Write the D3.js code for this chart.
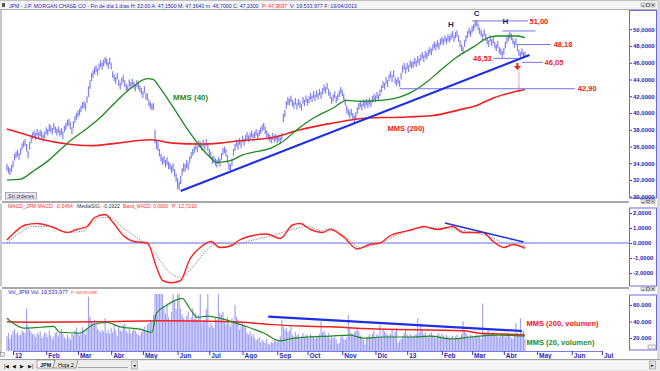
<!DOCTYPE html>
<html><head><meta charset="utf-8">
<script src="https://cdn.jsdelivr.net/npm/d3@7"></script>
<style>
body{margin:0;background:#fff}
svg{display:block;font-family:"Liberation Sans",Arial,sans-serif}
</style></head>
<body><svg id="c" width="660" height="371"></svg>
<script>
// ---------------- DATA ----------------
const firstDay = "2011-12-27";   // first trading day shown
const lastAxisDay = "2013-07-31"; // axis extends into the future
// daily low / high (one value per trading day, Dec 27 2011 .. Apr 19 2013)
const low = [
33.1,32.8,32.6,33.0,
33.5,34.3,34.6,34.8,34.4, 35.0,35.6,35.9,36.1,35.4, 34.6,35.6,36.4,36.9,37.1, 36.8,37.3,36.9,37.2,37.0,
36.6,37.0,37.5,37.3,37.8, 37.7,37.4,38.0,37.6,37.3, 37.6,37.2,37.4,36.9,37.7, 38.0,38.4,38.5,38.1,37.5,
38.2,38.8,39.2,39.5,39.7, 40.1,40.5,40.6,40.3,41.2, 41.9,42.9,43.8,44.2,44.6, 44.9,44.5,45.1,45.5,45.2,
45.6,45.9,45.7,45.3,45.8, 45.2,44.2,43.8,43.5,44.0, 43.2,42.8,43.4,43.7,43.1, 42.7,42.5,43.2,42.9,43.3,
42.9,42.6,43.1,42.8,42.5, 42.2,41.8,42.4,41.6,41.5, 40.8,40.5,40.3,40.4,36.4, 35.7,35.5,34.8,34.2,33.8,
34.0,33.5,33.8,33.3,33.2, 32.8,33.0,32.4,31.8,30.9, 30.8,31.5,32.5,33.0,33.0, 33.4,33.2,34.0,34.5,34.9,
35.2,35.6,35.3,35.9,35.8, 35.5,36.0,35.6,36.1,35.5, 34.8,34.5,33.9,34.1,33.7, 33.5,33.9,33.6,34.4,35.0,
35.2,34.8,34.0,33.2,33.0, 33.7,34.9,35.5,36.0,35.6, 36.2,35.8,36.5,36.1,36.6, 36.9,36.5,36.8,37.1,36.7,
37.0,37.3,36.8,37.2,37.5, 37.8,38.0,37.5,37.1,36.8, 36.6,36.4,36.8,36.5,36.7, 36.4,36.6,36.3,36.8,38.9,
39.5,40.5,41.0,40.9,41.3, 40.8,40.5,41.0,40.4,40.9, 40.6,40.3,41.1,40.8,41.3, 40.9,41.2,41.6,41.3,41.8,
41.4,41.9,41.6,42.1,41.7, 42.2,42.6,42.3,42.8,42.1, 41.7,41.1,41.4,41.8,41.2, 41.5,41.9,42.3,42.0,41.5,
40.9,40.0,39.7,39.4,39.7, 39.2,38.9,39.3,39.9,40.4, 40.7,40.3,40.8,40.5,40.9, 40.6,41.0,40.7,41.2,41.5,
41.3,41.7,41.4,42.0,42.5, 43.0,42.8,43.5,43.1,43.8, 44.2,43.7,44.3,43.5,43.2, 43.5,43.1,44.0,44.8,45.2,
44.7,45.2,44.9,45.5,45.3, 45.4,45.8,45.5,46.0,45.7, 46.2,46.5,46.1,46.6,46.4, 46.8,47.1,46.9,47.4,47.7,
47.5,47.9,47.6,48.1,48.3, 48.1,48.5,48.2,48.6,48.4, 48.7,49.0,48.5,48.9,49.1, 48.5,47.9,47.4,47.1,47.9,
48.5,49.0,49.4,49.1,49.6, 49.8,50.2,50.4,49.9,49.4, 49.1,48.7,49.2,48.6,48.2, 47.9,48.5,48.0,48.3,47.7,
47.4,47.8,47.1,46.9,46.6, 47.0,47.7,48.3,48.6,48.9, 48.7,48.2,47.8,48.1,47.4, 46.8,46.5,46.9,46.6,46.70];
const high = [
33.9,33.6,33.4,33.8,
34.3,35.1,35.4,35.6,35.2, 35.8,36.4,36.7,36.9,36.3, 35.5,36.5,37.2,37.7,37.9, 37.6,38.1,37.7,38.0,37.8,
37.4,37.8,38.3,38.1,38.7, 38.5,38.2,38.8,38.4,38.1, 38.4,38.0,38.2,37.8,38.5, 38.8,39.2,39.3,38.9,38.3,
39.0,39.6,40.0,40.3,40.5, 40.9,41.3,41.4,41.2,42.0, 43.2,43.9,44.8,45.1,45.5, 45.7,45.3,45.9,46.3,46.0,
46.4,46.7,46.5,46.1,46.6, 46.0,45.0,44.6,44.3,44.8, 44.0,43.6,44.2,44.5,43.9, 43.5,43.3,44.0,43.7,44.1,
43.7,43.4,43.9,43.6,43.3, 43.0,42.6,43.2,42.4,42.3, 41.6,41.3,41.1,41.2,38.0, 36.8,36.5,35.7,35.1,34.7,
34.9,34.4,34.7,34.2,34.0, 33.7,34.0,33.3,32.8,32.2, 31.8,32.5,33.4,34.0,33.9, 34.4,34.1,34.8,35.3,35.7,
36.0,36.4,36.1,36.7,36.6, 36.3,36.8,36.4,36.9,36.4, 35.7,35.4,34.8,34.9,34.6, 34.4,34.7,34.5,35.2,35.8,
36.0,35.7,35.0,34.1,33.9, 34.6,35.7,36.3,36.8,36.5, 37.0,36.6,37.3,36.9,37.4, 37.7,37.3,37.6,37.9,37.5,
37.8,38.1,37.6,38.0,38.3, 38.6,38.8,38.4,37.9,37.6, 37.4,37.2,37.6,37.3,37.5, 37.2,37.4,37.1,37.6,39.9,
40.4,41.4,41.9,41.7,42.1, 41.6,41.3,41.8,41.2,41.7, 41.4,41.1,41.9,41.6,42.1, 41.7,42.0,42.4,42.1,42.6,
42.2,42.7,42.4,42.9,42.5, 43.0,43.4,43.1,43.6,42.9, 42.5,41.9,42.2,42.6,42.0, 42.3,42.7,43.1,42.8,42.3,
41.7,40.9,40.5,40.2,40.5, 40.0,39.7,40.1,40.7,41.2, 41.5,41.1,41.6,41.3,41.7, 41.4,41.8,41.5,42.0,42.3,
42.1,42.5,42.2,42.8,43.3, 43.8,43.6,44.3,43.9,44.6, 45.0,44.5,45.1,44.3,44.0, 44.3,43.9,44.8,45.7,46.0,
45.5,46.0,45.7,46.3,46.1, 46.2,46.6,46.3,46.8,46.5, 47.0,47.3,46.9,47.4,47.2, 47.6,47.9,47.7,48.2,48.5,
48.3,48.7,48.4,48.9,49.1, 48.9,49.3,49.0,49.4,49.2, 49.5,49.8,49.3,49.7,49.9, 49.3,48.7,48.2,47.9,48.7,
49.3,49.8,50.2,49.9,50.4, 50.6,51.0,51.1,50.7,50.2, 49.9,49.5,50.0,49.4,49.0, 48.7,49.3,48.8,49.1,48.5,
48.2,48.6,47.9,47.7,47.4, 47.8,48.5,49.1,49.4,49.7, 49.5,49.0,48.6,48.9,48.2, 47.6,47.3,47.7,47.3,47.36];
// daily volume, millions of shares
const volume = [
22,26,19,24,
28,31,25,27,23, 24,29,27,26,56, 35,30,27,25,24, 21,26,24,28,20,
22,27,25,21,29, 23,19,22,26,28, 22,27,31,25,21, 19,24,21,18,25,
24,29,33,26,23, 25,33,28,24,30, 70,46,40,38,42, 36,31,29,27,30,
28,44,26,30,25, 32,27,35,29,23, 34,30,28,36,38, 29,26,31,25,28,
32,29,26,24,23, 27,30,34,29,36, 38,42,40,48,120, 150,95,88,80,76,
58,50,62,45,42, 52,80,64,55,78, 74,56,48,44,40, 47,52,41,45,56,
43,50,42,48,80, 38,42,40,55,85, 33,38,35,32,44, 42,80,50,48,52,
40,36,45,38,34, 44,40,60,46,42, 30,34,38,36,33, 26,24,28,22,25,
20,17,19,21,15, 18,16,14,19,13, 12,15,14,17,16, 15,18,22,42,34,
30,32,27,29,34, 24,21,27,23,25, 19,22,26,21,24, 23,20,25,22,21,
19,23,21,25,40, 27,29,24,21,26, 19,23,20,22,18, 13,14,21,24,19,
18,21,48,31,26, 25,27,29,33,28, 23,20,18,12,19, 22,24,21,25,29,
21,25,23,36,22, 30,28,26,24,23, 25,30,23,28,32, 14,17,19,22,26,
30,24,22,25,23, 22,24,25,44,26, 38,29,24,27,23, 21,25,27,23,21,
20,24,26,22,25, 23,21,24,22,19, 21,23,20,22,24, 19,21,25,40,29,
26,23,21,24,22, 20,22,24,21,23, 19,62,27,25,28, 29,23,25,27,24,
26,22,21,23,25, 24,21,23,26,22, 20,19,23,38,26, 25,44,27,29,19.5];

// moving averages (trading-day index, value)
const ma40Idx = [0,9,17,28,40,54,62,73,83,93,97,101,110,119,128,134,139,148,156,163,176,182,192,203,216,225,234,247,260,267,278,287,298,309,320,326,338,343];
const ma40Val = [32.0,32.1,33.0,34.4,36.4,38.3,39.5,41.5,43.1,44.1,44.0,43.1,40.7,38.2,36.0,34.8,34.1,34.3,35.0,35.3,35.9,36.5,38.0,39.4,40.6,41.5,41.4,41.5,41.9,42.4,43.7,45.1,46.7,47.9,49.1,49.2,49.2,49.0];
const ma200Idx = [0,9,22,40,55,73,95,110,128,141,150,179,194,216,238,260,282,300,311,322,333,343];
const ma200Val = [38.1,37.6,36.9,36.3,36.1,36.4,36.8,36.4,36.3,36.4,36.6,37.2,38.0,38.8,39.4,39.5,39.7,40.4,40.9,41.8,42.4,42.8];

// MACD pane
const macdIdx = [0,5,12,20,29,40,46,53,58,65,70,77,84,93,99,103,109,115,121,128,135,141,148,154,163,172,181,189,194,201,209,214,223,232,240,247,254,260,269,276,285,295,302,311,315,322,329,335,343];
const macdVal = [0.2,0.7,1.2,1.3,1.1,0.7,0.9,1.1,1.7,1.9,1.4,0.5,0.1,0.0,-1.6,-2.5,-2.65,-2.5,-1.1,-0.3,0.1,-0.3,-0.2,0.2,0.5,0.6,0.3,1.2,1.3,0.9,0.7,0.9,0.4,-0.4,-0.1,0.0,0.5,0.7,0.9,1.1,0.9,1.1,0.7,0.7,0.7,0.1,-0.3,-0.1,-0.35];
const sigIdx = [0,9,17,29,40,50,62,68,77,88,97,106,115,123,132,141,150,163,176,189,199,209,214,223,234,247,258,272,285,298,309,320,329,343];
const sigVal = [0.0,0.7,1.1,1.1,0.7,0.8,1.7,1.7,1.0,0.2,-0.5,-1.8,-2.3,-1.6,-0.5,0.0,-0.1,0.2,0.5,0.9,1.1,0.8,1.0,0.5,-0.3,0.0,0.5,1.0,1.0,0.9,0.7,0.4,0.0,-0.19];

// volume moving averages
const vma200Idx = [0,17,62,101,150,172,194,214,236,258,280,302,313,329,343];
const vma200Val = [39.6,39.2,39.6,40.8,39.6,36.8,34.4,33.6,31.6,30.4,29.6,28.8,25.9,24.8,23.5];
const vma20Idx = [0,4,11,22,31,35,48,57,66,75,88,96,99,106,116,121,126,133,141,150,159,170,181,187,199,214,227,236,249,269,280,295,307,325,343];
const vma20Val = [44,38,32,33,34,27,26,36,38.8,33.4,30.7,27,50,60,68,56,45,46.6,44,39,33.6,26,16.4,18.8,21.2,22.3,23.5,19.9,21.2,21.2,22.3,18.8,21.2,23.5,22.3];

// trend lines (index, value)
const priceTrendIdx = [115, 346]; const priceTrendVal = [30.68, 46.93];
const macdTrendIdx = [290, 342];  const macdTrendVal = [1.33, 0.07];
const volTrendIdx = [173, 341];   const volTrendVal = [45.8, 28.5];

// horizontal annotation levels
const levelVal   = [51.00, 49.8, 48.18, 46.53, 46.05, 42.90];
const levelStart = [308, 328, 338, 322, 341, 260];
const levelEnd   = [345, 350, 360, 338, 355, 376];
const levelText  = ["51,00", "", "48,18", "46,53", "46,05", "42,90"];
const levelTextIdx = [346, 0, 362, 321, 356, 378];

// pattern letters
const patText = ["H","C","H"]; const patIdx = [294, 311, 330]; const patVal = [50.3, 51.6, 50.6];

// axis ticks
const priceTicks = [30,32,34,36,38,40,42,44,46,48,50];
const priceTickLabels = ["30,0000","32,0000","34,0000","36,0000","38,0000","40,0000","42,0000","44,0000","46,0000","48,0000","50,0000"];
const macdTicks = [-2,-1,0,1,2];
const macdTickLabels = ["-2,0000","-1,0000","0,0000","1,0000","2,0000"];
const volTicks = [20,40,60];
const volTickLabels = ["20.000","40.000","60.000"];
const monthLabels = ["12","Feb","Mar","Abr","May","Jun","Jul","Ago","Sep","Oct","Nov","Dic","13","Feb","Mar","Abr","May","Jun","Jul"];

// header texts (text, colour key)
const titleParts = [["JPM - J.P. MORGAN CHASE CO - Fin de día 1 días H: 22:00 A: 47,1500 M: 47,3640 m: 46,7000 C: 47,2300","b"],["P: 47,3637","r"],["V: 19.533.977 F: 19/04/2013","b"]];
const macdParts = [["MACD_JPM MACD: -0,3454","r"],["MediaSIG: -0,1922","k"],["Band_MACD: 0,0000","r"],["P: 12,7210","r"]];
const volParts = [["Vol_JPM Vol: 19.533.977","b"],["P: 349.950.898","r"]];

// ---------------- LAYOUT ----------------
const svg = d3.select("#c");
const BLUE_TXT = "#2a2ab8";
const COL = {b: BLUE_TXT, r: "#ff2b2b", k: "#333"};
const parse = d3.timeParse("%Y-%m-%d");
const days = d3.timeDay.range(parse(firstDay), parse(lastAxisDay)).filter(d => d.getDay() > 0 && d.getDay() < 6);
const monthIdx = [];
for (let i = 1; i < days.length; i++) if (days[i].getMonth() !== days[i-1].getMonth()) monthIdx.push(i);

const x = d3.scaleLinear().domain([4, 394]).range([13, 602]);
const yP = d3.scaleLinear().domain([30, 50]).range([196.7, 29.3]);
const yM = d3.scaleLinear().domain([-2, 2]).range([273, 213]);
const yV = d3.scaleLinear().domain([0, 60]).range([354.5, 305]);

const PANE_R = 629;
const panes = {price:[10,200], macd:[204,287], vol:[289,351]};

svg.append("rect").attr("width",660).attr("height",371).attr("fill","#fff");
const defs = svg.append("defs");
Object.entries(panes).forEach(([k,[t,b]]) => {
  defs.append("clipPath").attr("id","clip-"+k).append("rect").attr("x",2).attr("y",t).attr("width",PANE_R-2).attr("height",b-t);
});

// header text rows: each piece shrunk so its natural width fits its span
function headerRow(parts, spans, y, fs){
  parts.forEach(([t,c],i)=>{
    const span = spans[i][1]-spans[i][0];
    const el = svg.append("text").attr("x",spans[i][0]).attr("y",y).attr("font-size",fs)
      .attr("font-family","'Liberation Sans Narrow','Liberation Sans',Arial,sans-serif")
      .attr("fill",COL[c]).text(t);
    const len = el.node().getComputedTextLength();
    if (len > span) el.attr("font-size", fs*span/len);
  });
}

// title bar
svg.append("rect").attr("x",0).attr("y",0).attr("width",660).attr("height",10).attr("fill","#f4f4f4");
svg.append("line").attr("x1",0).attr("x2",660).attr("y1",0.5).attr("y2",0.5).attr("stroke","#c0c0c0");
svg.append("line").attr("x1",0).attr("x2",660).attr("y1",9.5).attr("y2",9.5).attr("stroke","#b0b0b0");
svg.append("rect").attr("x",2).attr("y",3).attr("width",3).attr("height",4).attr("fill","#555");
headerRow(titleParts, [[9,259],[262,287],[290,357]], 7.5, 6.5);

// window frame edges
svg.append("rect").attr("x",0).attr("y",10).attr("width",2).attr("height",345).attr("fill","#c8c8c8");
svg.append("rect").attr("x",657).attr("y",0).attr("width",3).attr("height",371).attr("fill","#d8d8d8");

// pane separators
[[200.5,203.5],[286.5,289.5]].forEach(([a,b]) => {
  svg.append("rect").attr("x",0).attr("y",a).attr("width",657).attr("height",b-a).attr("fill","#fff");
  svg.append("line").attr("x1",2).attr("x2",629).attr("y1",a+1.5).attr("y2",a+1.5).attr("stroke","#a8a8a8").attr("stroke-width",2);
});

// window buttons
function winBtns(y){
  const g = svg.append("g").attr("transform",`translate(641,${y})`);
  [0,5,10].forEach(dx=>{
    g.append("rect").attr("x",dx).attr("y",0).attr("width",4).attr("height",4).attr("fill","#e6e6e6").attr("stroke","#888").attr("stroke-width",0.5);
  });
  g.append("line").attr("x1",0.8).attr("x2",3.2).attr("y1",3).attr("y2",3).attr("stroke","#333").attr("stroke-width",0.7);
  g.append("rect").attr("x",5.8).attr("y",0.8).attr("width",2.4).attr("height",2.4).attr("fill","none").attr("stroke","#333").attr("stroke-width",0.5);
  g.append("path").attr("d","M10.8,0.8L13.2,3.2M13.2,0.8L10.8,3.2").attr("stroke","#333").attr("stroke-width",0.6);
}
winBtns(3); winBtns(199.5); winBtns(287);

// axis boxes
function axisBox(t,b){
  svg.append("rect").attr("x",629.5).attr("y",t).attr("width",27).attr("height",b-t).attr("fill","#fff").attr("stroke","#6b6be0").attr("stroke-width",1);
}
axisBox(10.5,198); axisBox(208,286); axisBox(295,350);

function styleAxis(g, fs){
  g.select(".domain").remove();
  g.selectAll(".tick line").attr("stroke","#3a3ac8");
  g.selectAll(".tick text").attr("font-size",fs).attr("font-weight","bold").attr("fill",BLUE_TXT).attr("font-family","Liberation Sans, Arial, sans-serif");
}
[[yP,priceTicks,priceTickLabels],[yM,macdTicks,macdTickLabels],[yV,volTicks,volTickLabels]].forEach(([sc,tv,tl])=>{
  const g = svg.append("g").attr("transform","translate(630,0)")
    .call(d3.axisRight(sc).tickValues(tv).tickFormat((d,i)=>tl[i]).tickSize(2).tickPadding(1));
  styleAxis(g, 6);
});
svg.append("rect").attr("x",648).attr("y",345).attr("width",8).attr("height",4).attr("fill","#eee").attr("stroke","#777").attr("stroke-width",0.5);

// ---------------- PRICE PANE ----------------
const gp = svg.append("g").attr("clip-path","url(#clip-price)");
gp.selectAll("line.bar").data(low).join("line").attr("class","bar")
  .attr("x1",(d,i)=>x(i)).attr("x2",(d,i)=>x(i))
  .attr("y1",(d,i)=>yP(high[i])).attr("y2",d=>yP(d))
  .attr("stroke","#7f7ff0").attr("stroke-width",1.2);

const lineP = d3.line().x(d=>x(d[0])).y(d=>yP(d[1])).curve(d3.curveMonotoneX);
gp.append("path").attr("d",lineP(d3.zip(ma200Idx,ma200Val))).attr("fill","none").attr("stroke","#ee2020").attr("stroke-width",1.6);
gp.append("path").attr("d",lineP(d3.zip(ma40Idx,ma40Val))).attr("fill","none").attr("stroke","#1f8a1f").attr("stroke-width",1.3);

levelVal.forEach((v,i)=>{
  gp.append("line").attr("x1",x(levelStart[i])).attr("x2",x(levelEnd[i])).attr("y1",yP(v)).attr("y2",yP(v))
    .attr("stroke","#7373ee").attr("stroke-width",1);
  if (levelText[i]) {
    const right = levelTextIdx[i] < levelStart[i];
    svg.append("text").attr("x",x(levelTextIdx[i])).attr("y",yP(v)+2.6)
      .attr("text-anchor", right ? "end" : "start")
      .attr("font-size",7.5).attr("font-weight","bold").attr("fill","#f02020").text(levelText[i]);
  }
});
gp.append("path").attr("d",d3.line().x(d=>x(d[0])).y(d=>yP(d[1]))(d3.zip(priceTrendIdx,priceTrendVal)))
  .attr("stroke","#1c2ee6").attr("stroke-width",2).attr("fill","none");
gp.append("line").attr("x1",x(339)).attr("x2",x(339)).attr("y1",yP(45.2)).attr("y2",yP(42.3))
  .attr("stroke","#f04040").attr("stroke-width",1).attr("stroke-dasharray","1,1.2");
const ax = x(338), ay = yP(45.5);
gp.append("path").attr("d",`M${ax-1},${ay-4}h2v3h2.5l-3.5,4l-3.5,-4h2.5z`).attr("fill","#f02020");
patText.forEach((t,i)=>{
  svg.append("text").attr("x",x(patIdx[i])).attr("y",yP(patVal[i])).attr("text-anchor","middle")
    .attr("font-size",8).attr("font-weight","bold").attr("fill","#1e1e70").text(t);
});
svg.append("text").attr("x",x(110)).attr("y",yP(41.5)).attr("font-size",8).attr("font-weight","bold").attr("fill","#1f8a1f").text("MMS (40)");
svg.append("text").attr("x",x(252)).attr("y",yP(37.85)).attr("font-size",7.5).attr("font-weight","bold").attr("fill","#ee2020").text("MMS (200)");
svg.append("rect").attr("x",5.5).attr("y",192.5).attr("width",31).attr("height",6.5).attr("fill","#e8e8ee").attr("stroke","#7a7a9a").attr("stroke-width",0.6);
svg.append("text").attr("x",21).attr("y",197.6).attr("text-anchor","middle").attr("font-size",4.8).attr("fill","#303050").text("Sin órdenes");

// ---------------- MACD PANE ----------------
const gm = svg.append("g").attr("clip-path","url(#clip-macd)");
gm.append("line").attr("x1",2).attr("x2",PANE_R).attr("y1",yM(0)).attr("y2",yM(0)).attr("stroke","#6a6af5").attr("stroke-width",1);
const lineM = d3.line().x(d=>x(d[0])).y(d=>yM(d[1])).curve(d3.curveMonotoneX);
gm.append("path").attr("d",lineM(d3.zip(sigIdx,sigVal))).attr("fill","none").attr("stroke","#8a8a8a").attr("stroke-width",1).attr("stroke-dasharray","1.3,1.3");
gm.append("path").attr("d",lineM(d3.zip(macdIdx,macdVal))).attr("fill","none").attr("stroke","#ff2020").attr("stroke-width",1.4);
gm.append("path").attr("d",d3.line().x(d=>x(d[0])).y(d=>yM(d[1]))(d3.zip(macdTrendIdx,macdTrendVal)))
  .attr("stroke","#2030e0").attr("stroke-width",1.5).attr("fill","none");
headerRow(macdParts, [[8,73],[77,120],[123,168],[172,197]], 207.5, 6.5);

// ---------------- VOLUME PANE ----------------
const gv = svg.append("g").attr("clip-path","url(#clip-vol)");
gv.selectAll("rect.vb").data(volume).join("rect").attr("class","vb")
  .attr("x",(d,i)=>x(i)-0.55).attr("width",1.1)
  .attr("y",d=>Math.max(294,yV(d))).attr("height",d=>yV(0)-Math.max(294,yV(d)))
  .attr("fill","#9d9df5");
const lineV = d3.line().x(d=>x(d[0])).y(d=>yV(d[1])).curve(d3.curveMonotoneX);
gv.append("path").attr("d",lineV(d3.zip(vma200Idx,vma200Val))).attr("fill","none").attr("stroke","#f02020").attr("stroke-width",1.5);
gv.append("path").attr("d",lineV(d3.zip(vma20Idx,vma20Val))).attr("fill","none").attr("stroke","#1f8a1f").attr("stroke-width",1.2);
gv.append("path").attr("d",d3.line().x(d=>x(d[0])).y(d=>yV(d[1]))(d3.zip(volTrendIdx,volTrendVal)))
  .attr("stroke","#1c2ee6").attr("stroke-width",2.2).attr("fill","none");
headerRow(volParts, [[8,68],[71,97]], 294, 6.5);
svg.append("text").attr("x",x(344)).attr("y",yV(34.5)).attr("font-size",7.5).attr("font-weight","bold").attr("fill","#f02020").text("MMS (200, volumen)");
svg.append("text").attr("x",x(344)).attr("y",yV(12.1)).attr("font-size",7.5).attr("font-weight","bold").attr("fill","#1f8a1f").text("MMS (20, volumen)");

// ---------------- X AXIS ----------------
svg.append("rect").attr("x",2).attr("y",351).attr("width",627).attr("height",8).attr("fill","#fff");
const gx = svg.append("g").attr("transform","translate(0,351)")
  .call(d3.axisBottom(x).tickValues(monthIdx).tickFormat((d,i)=>monthLabels[i]).tickSize(4).tickPadding(0));
gx.select(".domain").attr("stroke","#7a7ae8");
gx.selectAll(".tick line").attr("stroke","#3a3ac8");
gx.selectAll(".tick text").attr("text-anchor","start").attr("dx",1.5).attr("y",2).attr("dy","0.71em")
  .attr("font-size",6.5).attr("font-weight","bold").attr("fill",BLUE_TXT).attr("font-family","Liberation Sans, Arial, sans-serif");
svg.append("rect").attr("x",0.5).attr("y",352.5).attr("width",4).attr("height",4).attr("fill","#eee").attr("stroke","#777").attr("stroke-width",0.5);

// ---------------- BOTTOM TAB BAR ----------------
svg.append("rect").attr("x",0).attr("y",359.5).attr("width",660).attr("height",11.5).attr("fill","#ececec");
svg.append("line").attr("x1",0).attr("x2",660).attr("y1",359.5).attr("y2",359.5).attr("stroke","#a0a0a0");
["|◀","◀","▶","▶|"].forEach((t,i)=>{
  svg.append("text").attr("x",4+i*8).attr("y",367.5).attr("font-size",5).attr("fill","#111").text(t);
});
svg.append("path").attr("d","M37,360v8h16l2,-8z").attr("fill","#fff").attr("stroke","#666").attr("stroke-width",0.6);
svg.append("text").attr("x",40).attr("y",366.5).attr("font-size",5.5).attr("font-weight","bold").attr("fill","#111").text("JPM");
svg.append("path").attr("d","M55,360l-2,8h23l2,-8").attr("fill","#e4e4e4").attr("stroke","#666").attr("stroke-width",0.6);
svg.append("text").attr("x",58).attr("y",366.5).attr("font-size",5.5).attr("fill","#111").text("Hoja 2");
svg.append("line").attr("x1",78).attr("x2",128).attr("y1",367.5).attr("y2",367.5).attr("stroke","#777").attr("stroke-width",0.6);
svg.append("rect").attr("x",138).attr("y",361).attr("width",511).attr("height",8).attr("fill","#f6f6f6");
svg.append("rect").attr("x",131.5).attr("y",361).attr("width",6).attr("height",8).attr("fill","#e0e0e0").attr("stroke","#888").attr("stroke-width",0.5);
svg.append("text").attr("x",132.5).attr("y",367).attr("font-size",5).attr("fill","#111").text("◂");
svg.append("rect").attr("x",649.5).attr("y",361).attr("width",6).attr("height",8).attr("fill","#e0e0e0").attr("stroke","#888").attr("stroke-width",0.5);
svg.append("text").attr("x",650.5).attr("y",367).attr("font-size",5).attr("fill","#111").text("▸");
</script></body></html>
